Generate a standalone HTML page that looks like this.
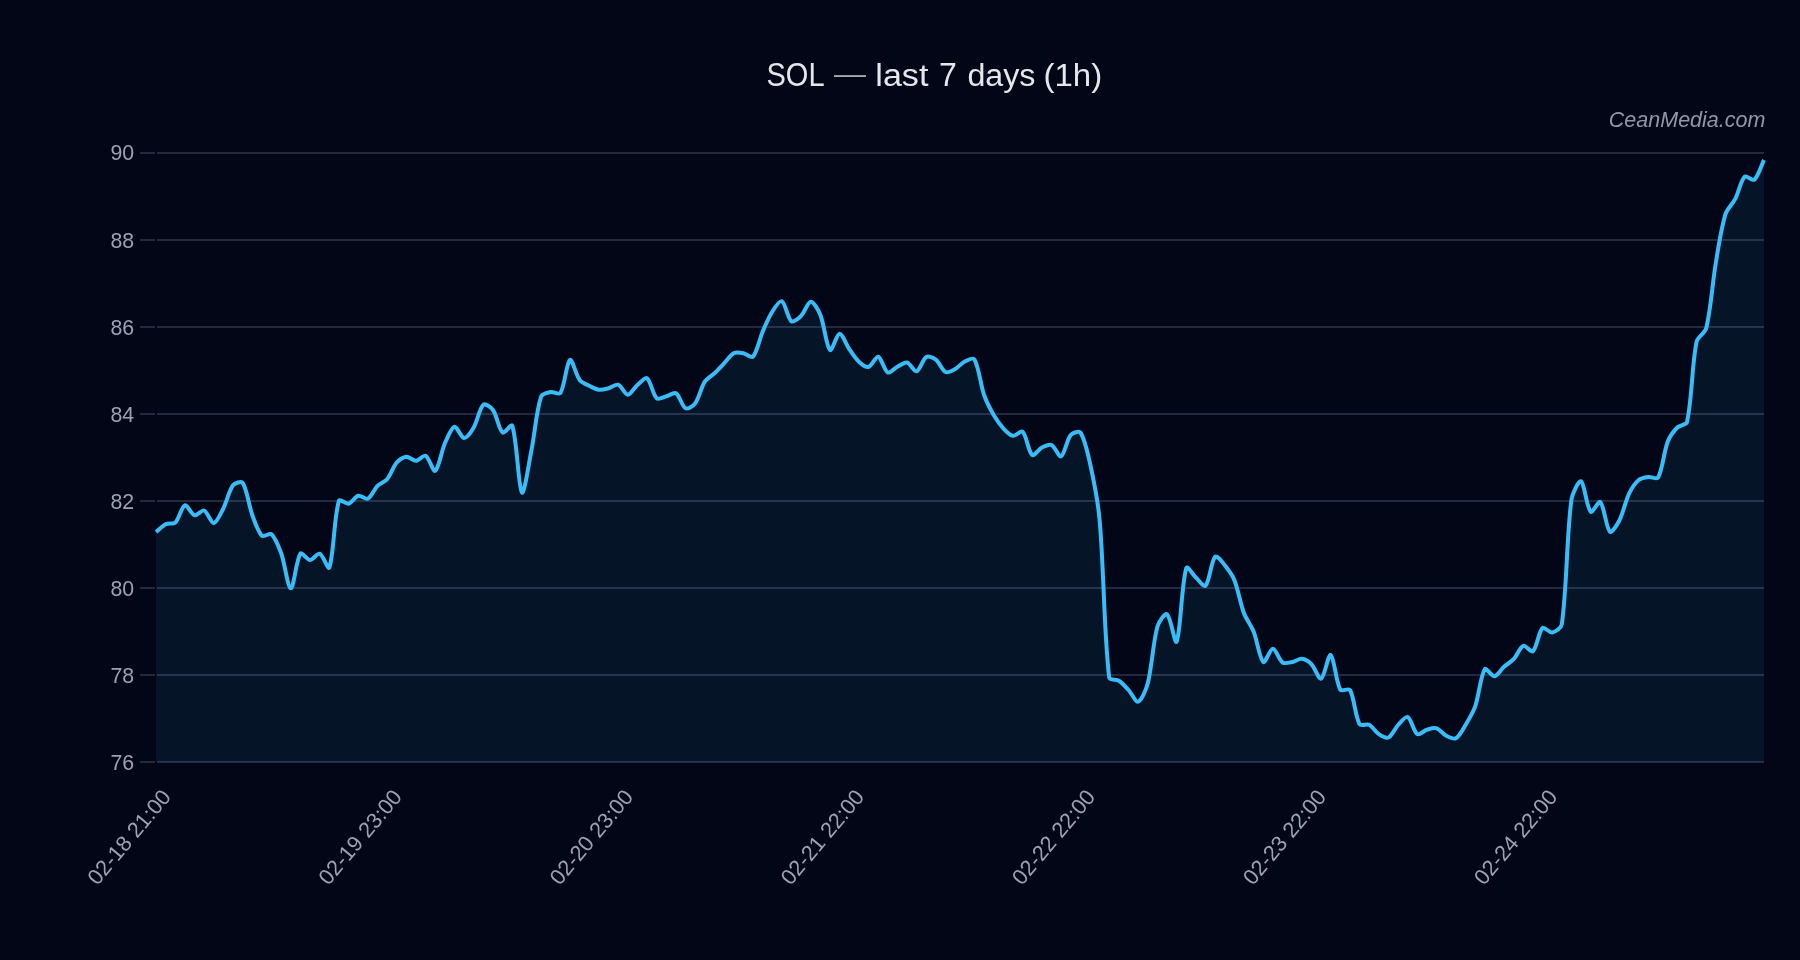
<!DOCTYPE html>
<html><head><meta charset="utf-8"><title>SOL</title>
<style>
html,body{margin:0;padding:0;background:#030617;}
body{width:1800px;height:960px;overflow:hidden;position:relative;font-family:"Liberation Sans",sans-serif;}
svg{position:absolute;left:0;top:0;display:block;will-change:transform}
text{font-family:"Liberation Sans",sans-serif;}
.yl{font-size:21.8px;fill:#9aa3b4;}.xl{font-size:21.7px;fill:#9aa3b4;}
.ttl{font-size:32.4px;fill:#e5e7eb;}
.wm{font-size:21.5px;font-style:italic;fill:#9098a8;}
</style></head><body>
<svg width="1800" height="960" viewBox="0 0 1800 960">
<rect width="1800" height="960" fill="#030617"/>
<g><rect x="140" y="152" width="15" height="2" fill="#232a3f"/><rect x="157" y="152" width="1607" height="2" fill="#232a3f"/><rect x="140" y="239" width="15" height="2" fill="#232a3f"/><rect x="157" y="239" width="1607" height="2" fill="#232a3f"/><rect x="140" y="326" width="15" height="2" fill="#232a3f"/><rect x="157" y="326" width="1607" height="2" fill="#232a3f"/><rect x="140" y="413" width="15" height="2" fill="#232a3f"/><rect x="157" y="413" width="1607" height="2" fill="#232a3f"/><rect x="140" y="500" width="15" height="2" fill="#232a3f"/><rect x="157" y="500" width="1607" height="2" fill="#232a3f"/><rect x="140" y="587" width="15" height="2" fill="#232a3f"/><rect x="157" y="587" width="1607" height="2" fill="#232a3f"/><rect x="140" y="674" width="15" height="2" fill="#232a3f"/><rect x="157" y="674" width="1607" height="2" fill="#232a3f"/><rect x="140" y="761" width="15" height="2" fill="#232a3f"/><rect x="157" y="761" width="1607" height="2" fill="#232a3f"/></g>
<rect x="155" y="152" width="2" height="612" fill="#030617"/>
<path d="M156 532C158.9 529.7 162.4 525.8 165.6 524.2C168.2 522.9 173.3 524.4 175.3 522.5C179.1 518.7 181.5 506.6 184.9 505.3C187.3 504.4 191.3 514.4 194.5 515.3C197 516 201.8 509.6 204.1 510.5C207.6 511.9 211 523.3 213.8 523C216.8 522.7 221 513 223.4 508.3C226.8 501.7 228.9 490.8 233 485.3C234.7 483.1 241.3 480.8 242.7 482.8C247.1 489.7 248.9 505.5 252.3 515C254.6 521.4 257.9 531.8 261.9 535.8C263.6 537.5 269.7 532.6 271.5 534.2C275.5 537.8 279 547.3 281.2 553.3C284.8 563.5 287.9 588.2 290.8 588.3C293.7 588.4 296.1 560.1 300.4 553.7C301.8 551.6 307.2 560 310.1 560C312.9 560 317.3 552.8 319.7 553.7C323.1 555 328.2 570.7 329.3 567.5C333.9 554.8 333.9 517.5 338.9 500.8C339.7 498.3 346 504.4 348.6 503.7C351.8 502.9 355 496.6 358.2 495.8C360.8 495.1 365.6 499.9 367.8 498.7C371.4 496.9 374.1 489.2 377.5 485.8C379.9 483.3 384.9 481.8 387.1 479.2C390.7 474.8 393.1 466.8 396.7 462.5C398.8 460 403.4 457 406.3 456.7C409.1 456.5 413.1 460.9 416 460.8C418.9 460.7 423.4 454.7 425.6 455.8C429.2 457.7 433 472.2 435.2 470.8C438.8 468.5 441.4 451.3 444.9 443.3C447.2 438 451.2 427.6 454.5 426.7C457 426 461.2 437.9 464.1 438C466.9 438.1 471.6 431.1 473.7 427.5C477.4 421.2 479.4 408.3 483.4 404.7C485.2 403.1 491.2 407.4 493 410C497 415.8 498.7 429.3 502.6 432.5C504.5 434 511.4 423.1 512.3 425.8C517.2 441.1 518.4 488.1 521.9 492.5C524.2 495.4 528.9 462.8 531.5 450C534.7 434.1 536.3 411.2 541.1 396.7C542.1 393.8 547.7 392.6 550.8 392C553.5 391.5 559.1 395.1 560.4 393C564.9 385.5 566.5 362.4 570 360C572.3 358.5 575.8 374.9 579.7 380C581.6 382.6 586.3 384.3 589.3 385.8C592.1 387.2 595.9 389.3 598.9 389.7C601.7 390.1 605.7 389 608.6 388.3C611.5 387.5 615.7 383.9 618.2 384.7C621.5 385.8 624.9 394.7 627.8 394.7C630.7 394.7 634.3 387.6 637.4 385C640.1 382.7 645.1 376.9 647.1 378.3C650.8 380.9 652.7 394.6 656.7 398.3C658.5 400 663.5 397 666.3 396.3C669.2 395.5 673.9 392 676 393.3C679.6 395.6 682 406.4 685.6 408.3C687.8 409.4 693.4 405.8 695.2 403.3C699.2 397.8 701.1 387.5 704.8 381.7C706.9 378.5 711.7 375.9 714.5 373.3C717.5 370.4 721.2 366.3 724.1 363.3C727 360.3 730.3 355 733.7 353.2C736.1 352 740.6 352.7 743.4 353.2C746.3 353.7 751.4 358.5 753 356.7C757.2 352 759.5 339.1 762.6 331.7C765.2 325.6 768.7 317.3 772.2 311.7C774.5 308.1 779.6 300.2 781.9 301.3C785.4 303.1 787.6 318.4 791.5 321.3C793.4 322.7 798.9 318.1 801.1 315.8C804.6 312.2 807.8 301.8 810.8 301.7C813.6 301.6 818.6 310.5 820.4 315C824.4 325 826.2 346.3 830 350C832 351.9 836.7 333.8 839.6 333.7C842.5 333.6 846.2 344.7 849.3 349.2C851.9 353.1 855.5 358.6 858.9 361.7C861.3 363.9 866 367.7 868.5 367C871.8 366.2 875.7 356 878.2 356.7C881.4 357.6 884.2 370.6 887.8 372.5C890 373.6 894.4 368.3 897.4 366.7C900.2 365.3 904.5 361.9 907 362.5C910.2 363.3 914.2 372 916.7 371.3C920 370.4 922.6 359.2 926.3 357C928.4 355.7 933.7 357.9 935.9 359.7C939.5 362.4 942 370.3 945.6 372C947.8 373.1 952.6 370.4 955.2 369C958.3 367.3 961.6 363.1 964.8 361.5C967.4 360.2 973.2 357.3 974.4 359.4C979 367.3 980.5 384.6 984.1 395C986.2 401.3 990.4 409.3 993.7 415C996.2 419.2 1000 424.7 1003.3 428.3C1005.8 431 1009.8 435.3 1013 435.8C1015.6 436.3 1020.9 430 1022.6 431.7C1026.7 435.8 1028.3 451.8 1032.2 455C1034.1 456.5 1038.7 449.2 1041.8 447.5C1044.4 446.2 1049.2 443.9 1051.5 445C1054.9 446.6 1058.9 457.5 1061.1 456.3C1064.6 454.5 1066.7 440 1070.7 435C1072.5 432.9 1079 430.5 1080.4 432.5C1084.8 439 1087.9 453.9 1090 463.3C1093.7 480.1 1098.1 502.8 1099.6 520C1103.9 567.1 1103.8 632.2 1109.2 677.5C1109.6 680.4 1116.4 679.2 1118.9 680.8C1122.1 682.9 1125.8 687.1 1128.5 690C1131.6 693.3 1135.7 702.5 1138.1 701.7C1141.5 700.5 1146.2 689.3 1147.8 683.3C1152 666.8 1152.9 643 1157.4 626.7C1158.6 622.2 1165 612.6 1167 614.2C1170.8 617.1 1175 645.6 1176.6 641.7C1180.8 631.7 1181.4 584.3 1186.3 568C1187.2 565 1192.9 574.7 1195.9 577.5C1198.7 580.1 1203.8 587.6 1205.5 585.8C1209.6 581.4 1211.1 561.1 1215.2 556.7C1216.9 554.9 1222.4 562.2 1224.8 565.2C1228.1 569.3 1232.5 575.3 1234.4 580.2C1238.2 589.7 1240.4 603.7 1244 613.3C1246.2 619.1 1251.4 625.9 1253.7 631.7C1257.2 640.5 1259.5 658.6 1263.3 662C1265.3 663.7 1270.1 648.6 1272.9 648.7C1275.9 648.8 1278.9 660 1282.6 662.5C1284.7 664 1289.4 662.5 1292.2 662C1295.2 661.4 1299.1 658.5 1301.8 658.8C1304.8 659.1 1309.2 661.9 1311.4 664.2C1315 667.9 1318.7 679.8 1321.1 678.7C1324.5 677.1 1328.3 653.6 1330.7 655C1334.1 656.9 1335.8 681.4 1340.3 689.7C1341.6 691.9 1348.7 687.8 1350 690C1354.5 698.1 1355 716 1359.6 724.2C1360.8 726.4 1366.8 723.5 1369.2 724.7C1372.6 726.5 1375.6 732 1378.9 734.2C1381.3 735.8 1386.2 738.6 1388.5 737.5C1392 735.8 1394.9 728.4 1398.1 725C1400.7 722.3 1405.5 715.9 1407.7 717C1411.3 718.7 1413.6 731.7 1417.4 734.2C1419.4 735.5 1424 730.6 1427 729.7C1429.8 728.9 1434.1 727.5 1436.6 728.3C1439.8 729.3 1443.1 734.1 1446.3 735.8C1448.8 737.1 1453.7 739.5 1455.9 738.3C1459.5 736.3 1463 729.2 1465.5 725C1468.7 719.7 1473.1 712.5 1475.1 706.7C1478.9 695.8 1480.4 676.2 1484.8 669.2C1486.1 667 1491.7 676.7 1494.4 676.3C1497.5 675.9 1501 669.4 1504 666.7C1506.8 664.3 1511.2 661.9 1513.7 659.2C1517 655.6 1519.8 647.2 1523.3 645.8C1525.6 644.8 1531.1 652.9 1532.9 651.3C1536.9 647.6 1538.5 632 1542.5 628C1544.3 626.3 1549.5 633 1552.2 632.5C1555.3 631.9 1561.3 627.9 1561.8 624.2C1567 588.1 1566.5 536.7 1571.4 500C1572.3 493.8 1578.8 479.9 1581.1 481.3C1584.5 483.4 1586.6 507.4 1590.7 511.7C1592.4 513.6 1598.6 500.2 1600.3 502C1604.3 506.2 1606.1 528.1 1609.9 531.7C1611.8 533.5 1617.6 524 1619.6 520C1623.3 512.5 1625.5 500.9 1629.2 493.3C1631.3 488.9 1635.2 483 1638.8 480C1641 478.1 1645.5 477.4 1648.5 477C1651.3 476.6 1656.9 479.7 1658.1 477.5C1662.7 469.1 1663.8 452 1667.7 441.7C1669.5 437 1673.8 431.1 1677.3 427.5C1679.6 425.2 1686.3 425.1 1687 422C1692.1 399.4 1691.8 365 1696.6 341.7C1697.6 336.9 1705.1 333 1706.2 328.3C1710.9 309.3 1712.5 282.2 1715.9 262.5C1718.3 247.9 1721.2 228.1 1725.5 214.2C1727 209.2 1732.7 203.9 1735.1 199.2C1738.5 192.7 1740.7 180.8 1744.7 176.7C1746.4 175 1752.6 181.3 1754.4 179.7C1758.3 176.3 1761.1 165.9 1764 160L1764 762L156 762Z" fill="rgba(56,189,248,0.08)"/>
<path d="M156 532C158.9 529.7 162.4 525.8 165.6 524.2C168.2 522.9 173.3 524.4 175.3 522.5C179.1 518.7 181.5 506.6 184.9 505.3C187.3 504.4 191.3 514.4 194.5 515.3C197 516 201.8 509.6 204.1 510.5C207.6 511.9 211 523.3 213.8 523C216.8 522.7 221 513 223.4 508.3C226.8 501.7 228.9 490.8 233 485.3C234.7 483.1 241.3 480.8 242.7 482.8C247.1 489.7 248.9 505.5 252.3 515C254.6 521.4 257.9 531.8 261.9 535.8C263.6 537.5 269.7 532.6 271.5 534.2C275.5 537.8 279 547.3 281.2 553.3C284.8 563.5 287.9 588.2 290.8 588.3C293.7 588.4 296.1 560.1 300.4 553.7C301.8 551.6 307.2 560 310.1 560C312.9 560 317.3 552.8 319.7 553.7C323.1 555 328.2 570.7 329.3 567.5C333.9 554.8 333.9 517.5 338.9 500.8C339.7 498.3 346 504.4 348.6 503.7C351.8 502.9 355 496.6 358.2 495.8C360.8 495.1 365.6 499.9 367.8 498.7C371.4 496.9 374.1 489.2 377.5 485.8C379.9 483.3 384.9 481.8 387.1 479.2C390.7 474.8 393.1 466.8 396.7 462.5C398.8 460 403.4 457 406.3 456.7C409.1 456.5 413.1 460.9 416 460.8C418.9 460.7 423.4 454.7 425.6 455.8C429.2 457.7 433 472.2 435.2 470.8C438.8 468.5 441.4 451.3 444.9 443.3C447.2 438 451.2 427.6 454.5 426.7C457 426 461.2 437.9 464.1 438C466.9 438.1 471.6 431.1 473.7 427.5C477.4 421.2 479.4 408.3 483.4 404.7C485.2 403.1 491.2 407.4 493 410C497 415.8 498.7 429.3 502.6 432.5C504.5 434 511.4 423.1 512.3 425.8C517.2 441.1 518.4 488.1 521.9 492.5C524.2 495.4 528.9 462.8 531.5 450C534.7 434.1 536.3 411.2 541.1 396.7C542.1 393.8 547.7 392.6 550.8 392C553.5 391.5 559.1 395.1 560.4 393C564.9 385.5 566.5 362.4 570 360C572.3 358.5 575.8 374.9 579.7 380C581.6 382.6 586.3 384.3 589.3 385.8C592.1 387.2 595.9 389.3 598.9 389.7C601.7 390.1 605.7 389 608.6 388.3C611.5 387.5 615.7 383.9 618.2 384.7C621.5 385.8 624.9 394.7 627.8 394.7C630.7 394.7 634.3 387.6 637.4 385C640.1 382.7 645.1 376.9 647.1 378.3C650.8 380.9 652.7 394.6 656.7 398.3C658.5 400 663.5 397 666.3 396.3C669.2 395.5 673.9 392 676 393.3C679.6 395.6 682 406.4 685.6 408.3C687.8 409.4 693.4 405.8 695.2 403.3C699.2 397.8 701.1 387.5 704.8 381.7C706.9 378.5 711.7 375.9 714.5 373.3C717.5 370.4 721.2 366.3 724.1 363.3C727 360.3 730.3 355 733.7 353.2C736.1 352 740.6 352.7 743.4 353.2C746.3 353.7 751.4 358.5 753 356.7C757.2 352 759.5 339.1 762.6 331.7C765.2 325.6 768.7 317.3 772.2 311.7C774.5 308.1 779.6 300.2 781.9 301.3C785.4 303.1 787.6 318.4 791.5 321.3C793.4 322.7 798.9 318.1 801.1 315.8C804.6 312.2 807.8 301.8 810.8 301.7C813.6 301.6 818.6 310.5 820.4 315C824.4 325 826.2 346.3 830 350C832 351.9 836.7 333.8 839.6 333.7C842.5 333.6 846.2 344.7 849.3 349.2C851.9 353.1 855.5 358.6 858.9 361.7C861.3 363.9 866 367.7 868.5 367C871.8 366.2 875.7 356 878.2 356.7C881.4 357.6 884.2 370.6 887.8 372.5C890 373.6 894.4 368.3 897.4 366.7C900.2 365.3 904.5 361.9 907 362.5C910.2 363.3 914.2 372 916.7 371.3C920 370.4 922.6 359.2 926.3 357C928.4 355.7 933.7 357.9 935.9 359.7C939.5 362.4 942 370.3 945.6 372C947.8 373.1 952.6 370.4 955.2 369C958.3 367.3 961.6 363.1 964.8 361.5C967.4 360.2 973.2 357.3 974.4 359.4C979 367.3 980.5 384.6 984.1 395C986.2 401.3 990.4 409.3 993.7 415C996.2 419.2 1000 424.7 1003.3 428.3C1005.8 431 1009.8 435.3 1013 435.8C1015.6 436.3 1020.9 430 1022.6 431.7C1026.7 435.8 1028.3 451.8 1032.2 455C1034.1 456.5 1038.7 449.2 1041.8 447.5C1044.4 446.2 1049.2 443.9 1051.5 445C1054.9 446.6 1058.9 457.5 1061.1 456.3C1064.6 454.5 1066.7 440 1070.7 435C1072.5 432.9 1079 430.5 1080.4 432.5C1084.8 439 1087.9 453.9 1090 463.3C1093.7 480.1 1098.1 502.8 1099.6 520C1103.9 567.1 1103.8 632.2 1109.2 677.5C1109.6 680.4 1116.4 679.2 1118.9 680.8C1122.1 682.9 1125.8 687.1 1128.5 690C1131.6 693.3 1135.7 702.5 1138.1 701.7C1141.5 700.5 1146.2 689.3 1147.8 683.3C1152 666.8 1152.9 643 1157.4 626.7C1158.6 622.2 1165 612.6 1167 614.2C1170.8 617.1 1175 645.6 1176.6 641.7C1180.8 631.7 1181.4 584.3 1186.3 568C1187.2 565 1192.9 574.7 1195.9 577.5C1198.7 580.1 1203.8 587.6 1205.5 585.8C1209.6 581.4 1211.1 561.1 1215.2 556.7C1216.9 554.9 1222.4 562.2 1224.8 565.2C1228.1 569.3 1232.5 575.3 1234.4 580.2C1238.2 589.7 1240.4 603.7 1244 613.3C1246.2 619.1 1251.4 625.9 1253.7 631.7C1257.2 640.5 1259.5 658.6 1263.3 662C1265.3 663.7 1270.1 648.6 1272.9 648.7C1275.9 648.8 1278.9 660 1282.6 662.5C1284.7 664 1289.4 662.5 1292.2 662C1295.2 661.4 1299.1 658.5 1301.8 658.8C1304.8 659.1 1309.2 661.9 1311.4 664.2C1315 667.9 1318.7 679.8 1321.1 678.7C1324.5 677.1 1328.3 653.6 1330.7 655C1334.1 656.9 1335.8 681.4 1340.3 689.7C1341.6 691.9 1348.7 687.8 1350 690C1354.5 698.1 1355 716 1359.6 724.2C1360.8 726.4 1366.8 723.5 1369.2 724.7C1372.6 726.5 1375.6 732 1378.9 734.2C1381.3 735.8 1386.2 738.6 1388.5 737.5C1392 735.8 1394.9 728.4 1398.1 725C1400.7 722.3 1405.5 715.9 1407.7 717C1411.3 718.7 1413.6 731.7 1417.4 734.2C1419.4 735.5 1424 730.6 1427 729.7C1429.8 728.9 1434.1 727.5 1436.6 728.3C1439.8 729.3 1443.1 734.1 1446.3 735.8C1448.8 737.1 1453.7 739.5 1455.9 738.3C1459.5 736.3 1463 729.2 1465.5 725C1468.7 719.7 1473.1 712.5 1475.1 706.7C1478.9 695.8 1480.4 676.2 1484.8 669.2C1486.1 667 1491.7 676.7 1494.4 676.3C1497.5 675.9 1501 669.4 1504 666.7C1506.8 664.3 1511.2 661.9 1513.7 659.2C1517 655.6 1519.8 647.2 1523.3 645.8C1525.6 644.8 1531.1 652.9 1532.9 651.3C1536.9 647.6 1538.5 632 1542.5 628C1544.3 626.3 1549.5 633 1552.2 632.5C1555.3 631.9 1561.3 627.9 1561.8 624.2C1567 588.1 1566.5 536.7 1571.4 500C1572.3 493.8 1578.8 479.9 1581.1 481.3C1584.5 483.4 1586.6 507.4 1590.7 511.7C1592.4 513.6 1598.6 500.2 1600.3 502C1604.3 506.2 1606.1 528.1 1609.9 531.7C1611.8 533.5 1617.6 524 1619.6 520C1623.3 512.5 1625.5 500.9 1629.2 493.3C1631.3 488.9 1635.2 483 1638.8 480C1641 478.1 1645.5 477.4 1648.5 477C1651.3 476.6 1656.9 479.7 1658.1 477.5C1662.7 469.1 1663.8 452 1667.7 441.7C1669.5 437 1673.8 431.1 1677.3 427.5C1679.6 425.2 1686.3 425.1 1687 422C1692.1 399.4 1691.8 365 1696.6 341.7C1697.6 336.9 1705.1 333 1706.2 328.3C1710.9 309.3 1712.5 282.2 1715.9 262.5C1718.3 247.9 1721.2 228.1 1725.5 214.2C1727 209.2 1732.7 203.9 1735.1 199.2C1738.5 192.7 1740.7 180.8 1744.7 176.7C1746.4 175 1752.6 181.3 1754.4 179.7C1758.3 176.3 1761.1 165.9 1764 160" fill="none" stroke="#38bdf8" stroke-width="4" stroke-linejoin="miter" stroke-linecap="butt"/>
<g><text x="134.2" y="160.4" text-anchor="end" class="yl" textLength="23.7" lengthAdjust="spacingAndGlyphs">90</text><text x="134.2" y="247.5" text-anchor="end" class="yl" textLength="23.7" lengthAdjust="spacingAndGlyphs">88</text><text x="134.2" y="334.6" text-anchor="end" class="yl" textLength="23.7" lengthAdjust="spacingAndGlyphs">86</text><text x="134.2" y="421.7" text-anchor="end" class="yl" textLength="23.7" lengthAdjust="spacingAndGlyphs">84</text><text x="134.2" y="508.8" text-anchor="end" class="yl" textLength="23.7" lengthAdjust="spacingAndGlyphs">82</text><text x="134.2" y="595.9" text-anchor="end" class="yl" textLength="23.7" lengthAdjust="spacingAndGlyphs">80</text><text x="134.2" y="682.9" text-anchor="end" class="yl" textLength="23.7" lengthAdjust="spacingAndGlyphs">78</text><text x="134.2" y="770" text-anchor="end" class="yl" textLength="23.7" lengthAdjust="spacingAndGlyphs">76</text></g>
<g><text transform="translate(165.8 792.4) rotate(-50)" text-anchor="end" class="xl" x="0" y="8">02-18 21:00</text><text transform="translate(396.9 792.4) rotate(-50)" text-anchor="end" class="xl" x="0" y="8">02-19 23:00</text><text transform="translate(628 792.4) rotate(-50)" text-anchor="end" class="xl" x="0" y="8">02-20 23:00</text><text transform="translate(859.1 792.4) rotate(-50)" text-anchor="end" class="xl" x="0" y="8">02-21 22:00</text><text transform="translate(1090.2 792.4) rotate(-50)" text-anchor="end" class="xl" x="0" y="8">02-22 22:00</text><text transform="translate(1321.2 792.4) rotate(-50)" text-anchor="end" class="xl" x="0" y="8">02-23 22:00</text><text transform="translate(1552.3 792.4) rotate(-50)" text-anchor="end" class="xl" x="0" y="8">02-24 22:00</text></g>
<text x="766.5" y="86" class="ttl" style="font-size:32.8px" textLength="58.1" lengthAdjust="spacingAndGlyphs">SOL</text><text x="875.3" y="86" class="ttl" style="font-size:31px" textLength="53.1" lengthAdjust="spacingAndGlyphs">last</text><text x="939" y="86" class="ttl" style="font-size:32.8px" textLength="17.8" lengthAdjust="spacingAndGlyphs">7</text><text x="967.4" y="86" class="ttl" style="font-size:31px" textLength="68.1" lengthAdjust="spacingAndGlyphs">days</text><text x="1043.5" y="86" class="ttl" style="font-size:31px" textLength="58.7" lengthAdjust="spacingAndGlyphs">(1h)</text><rect x="834" y="75.2" width="32" height="1.7" fill="#b5bac4"/>
<text x="1765.4" y="127" text-anchor="end" class="wm">CeanMedia.com</text>
</svg>
</body></html>
